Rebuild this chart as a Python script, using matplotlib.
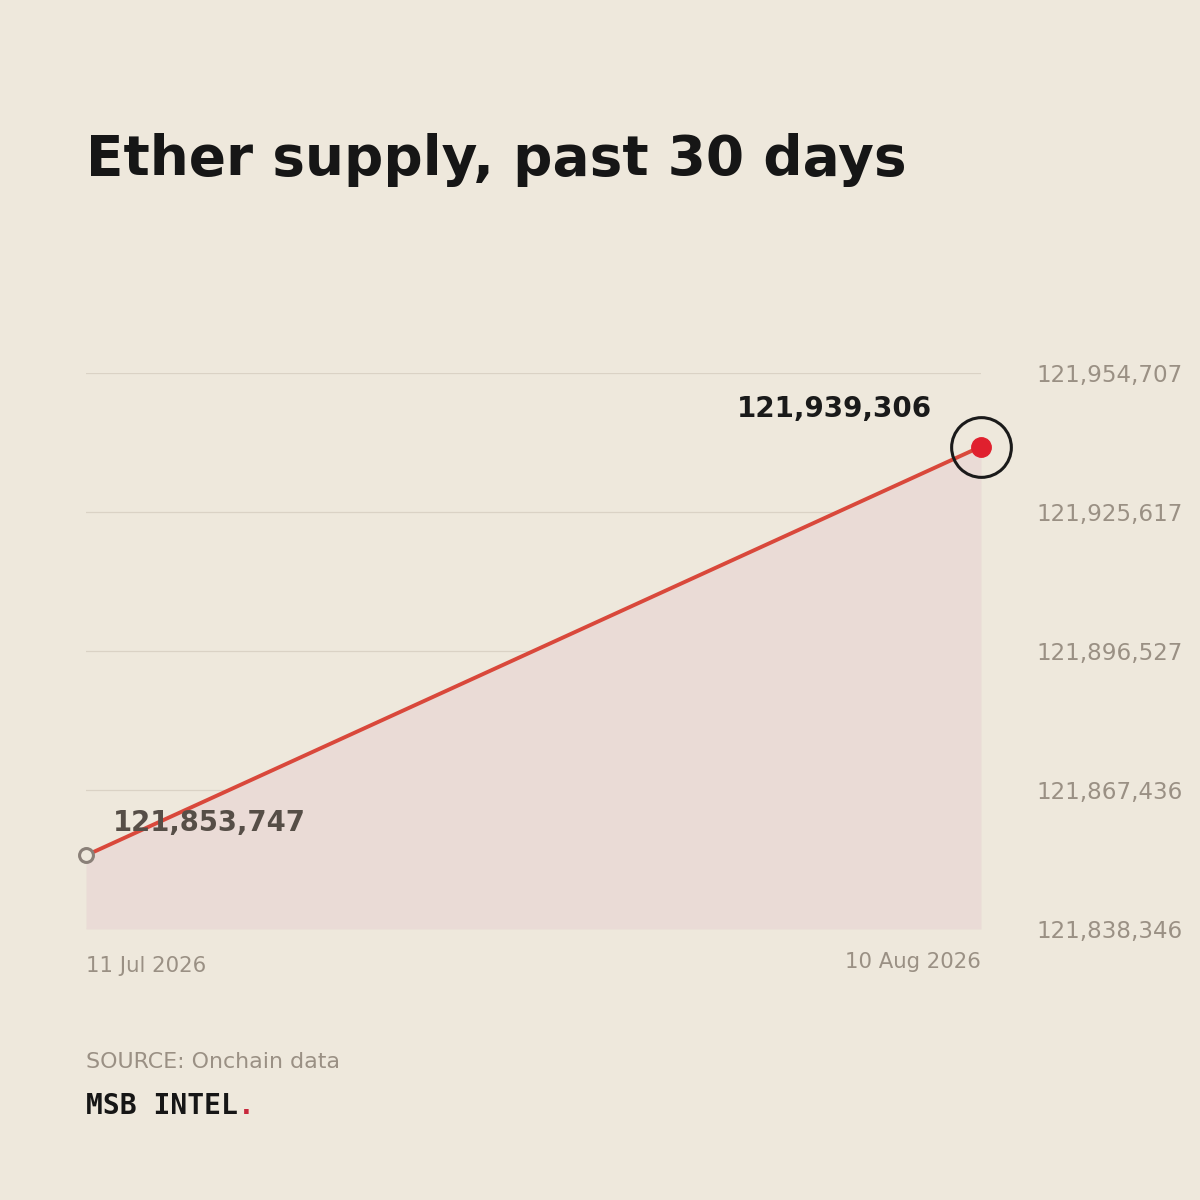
"""
Ether supply over the past 30 days, simple area line chart
"""
import matplotlib
import matplotlib.pyplot as plt
import matplotlib.transforms as mtransforms

matplotlib.use('Agg')
plt.rcParams['font.family'] = 'DejaVu Sans'

# Data
dates = ['11 Jul 2026', '10 Aug 2026']
day_index = [0, 30]
supply = [121853747, 121939306]
y_ticks = [121838346, 121867436, 121896527, 121925617, 121954707]

bg = '#EEE8DC'
grey = '#9A9084'

fig = plt.figure(figsize=(12, 12), dpi=100, facecolor=bg)
ax = fig.add_axes([86 / 1200, 1 - 929 / 1200, (981 - 86) / 1200, (929 - 373) / 1200])
ax.set_facecolor(bg)

ax.set_xlim(day_index[0], day_index[-1])
ax.set_ylim(y_ticks[0], y_ticks[-1])

# Grid
for t in y_ticks:
    ax.axhline(t, color='#DAD2C5', linewidth=0.9, zorder=0)

# Area + line
ax.fill_between(day_index, supply, y_ticks[0], color='#EADBD6', linewidth=0, zorder=1)
ax.plot(day_index, supply, color='#D9483B', linewidth=2.8, zorder=3, clip_on=False)

# Start marker
ax.plot(day_index[0], supply[0], marker='o', markersize=10, markerfacecolor=bg,
        markeredgecolor='#8A8078', markeredgewidth=2.2, zorder=4, clip_on=False)
# End marker + ring
ax.plot(day_index[-1], supply[-1], marker='o', markersize=14, color='#E0202E',
        zorder=5, clip_on=False)
ax.plot(day_index[-1], supply[-1], marker='o', markersize=43, markerfacecolor='none',
        markeredgecolor='#1A1A1A', markeredgewidth=2.2, zorder=5, clip_on=False)

# Value labels
ax.annotate(f'{supply[0]:,}', (day_index[0], supply[0]), xytext=(19, 13),
            textcoords='offset points', fontsize=19.8, fontweight='bold',
            color='#564E47', ha='left', va='bottom', zorder=6)
ax.annotate(f'{supply[-1]:,}', (day_index[-1], supply[-1]), xytext=(-35, 17),
            textcoords='offset points', fontsize=20, fontweight='bold',
            color='#1A1A1A', ha='right', va='bottom', zorder=6)

# Axes styling
for s in ax.spines.values():
    s.set_visible(False)
ax.set_xticks([])
ax.set_yticks(y_ticks)
ax.set_yticklabels([f'{t:,}' for t in y_ticks])
ax.tick_params(axis='y', left=False, labelleft=False, right=False, labelright=True,
               length=0, pad=40, labelsize=16.6, labelcolor=grey)

# Date labels
trans = mtransforms.blended_transform_factory(ax.transData, fig.transFigure)
ax.text(day_index[0], 1 - 972 / 1200, dates[0], transform=trans, ha='left',
        va='baseline', fontsize=15.3, color=grey)
ax.text(day_index[-1], 1 - 968 / 1200, dates[-1], transform=trans, ha='right',
        va='baseline', fontsize=15.3, color=grey)

# Title
fig.text(86 / 1200, 1 - 175 / 1200, 'Ether supply, past 30 days', fontsize=39.5,
         fontweight='bold', color='#161616', ha='left', va='baseline')

# Footer
fig.text(86 / 1200, 1 - 1068 / 1200, 'SOURCE: Onchain data', fontsize=15.9,
         color=grey, ha='left', va='baseline')
brand = fig.text(86 / 1200, 1 - 1114 / 1200, 'MSB INTEL', fontsize=20.2,
                 family='DejaVu Sans Mono', fontweight='bold', color='#161616',
                 ha='left', va='baseline')
fig.canvas.draw()
bb = brand.get_window_extent()
fig.text(bb.x1 / 1200, 1 - 1114 / 1200, '.', fontsize=20.2, family='DejaVu Sans Mono',
         fontweight='bold', color='#C8283C', ha='left', va='baseline')

plt.savefig('out.png', dpi=100, facecolor=bg)
plt.close()
